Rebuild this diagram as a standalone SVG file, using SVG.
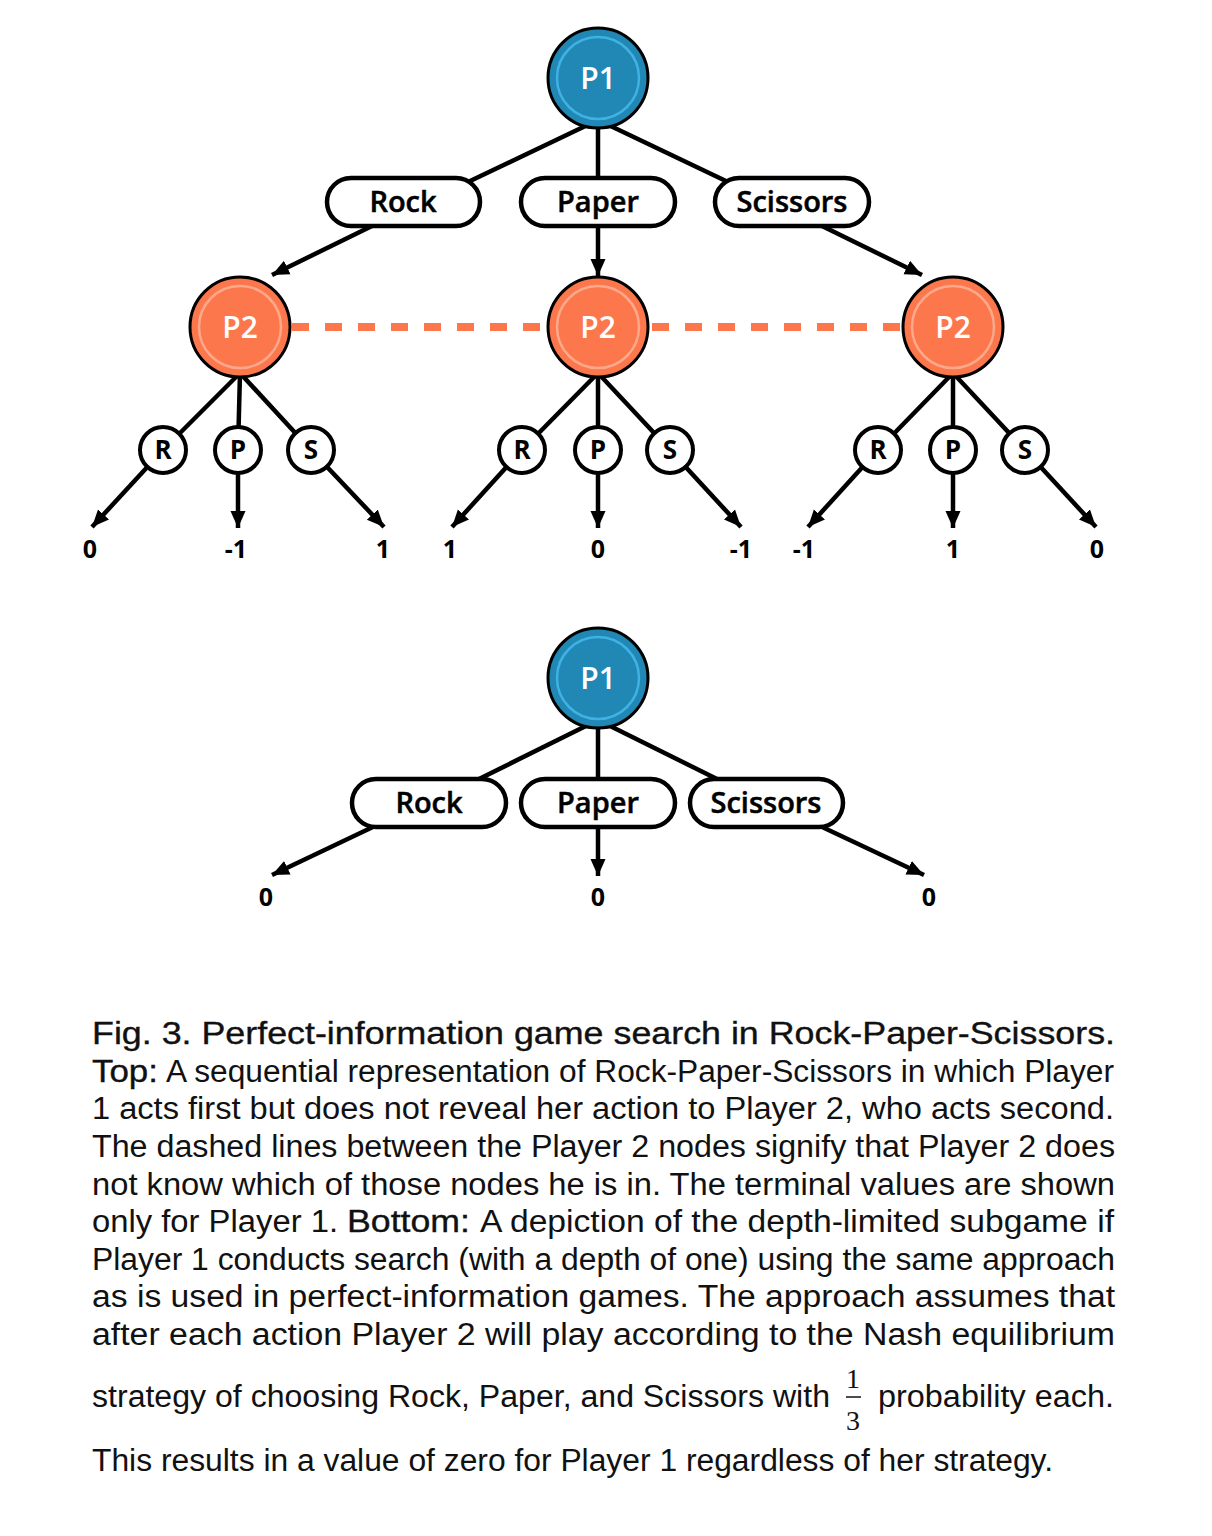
<svg xmlns="http://www.w3.org/2000/svg" width="1212" height="1536" viewBox="0 0 1212 1536">
<defs>
<marker id="ah" markerUnits="userSpaceOnUse" markerWidth="18" markerHeight="18" viewBox="0 0 18 18" refX="17" refY="9" orient="auto">
<path d="M0,1.5 L17,9 L0,16.5 Z" fill="#000"/>
</marker>
</defs>
<style>
.ln{stroke:#000;stroke-width:4.5;fill:none}
.ar{stroke:#000;stroke-width:4.5;fill:none;marker-end:url(#ah)}
.p1{fill:#2187b4;stroke:#000;stroke-width:3}
.p1r{fill:none;stroke:#3fb2e3;stroke-width:2.5}
.p2{fill:#fd774d;stroke:#000;stroke-width:3}
.p2r{fill:none;stroke:#fca88b;stroke-width:2.5}
.big{font-family:"Open Sans","Noto Sans",sans-serif;font-weight:600;font-size:30px;fill:#fff;text-anchor:middle}
.pill{fill:#fff;stroke:#000;stroke-width:4.5}
.pt{font-family:"Open Sans","Noto Sans",sans-serif;font-weight:600;font-size:29px;fill:#000;text-anchor:middle;stroke:#000;stroke-width:0.5}
.sm{fill:#fff;stroke:#000;stroke-width:4}
.st{font-family:"Open Sans","Noto Sans",sans-serif;font-weight:700;font-size:26px;fill:#000;text-anchor:middle}
.tv{font-family:"Open Sans","Noto Sans",sans-serif;font-weight:700;font-size:25px;fill:#000;text-anchor:middle}
.dash{stroke:#fd774d;stroke-width:8;stroke-dasharray:17 16;fill:none}
.cap{font-family:"Liberation Sans",Arial,sans-serif;font-size:31px;fill:#111}
.cm{font-family:"Liberation Sans",Arial,sans-serif;font-size:31px;fill:#111;stroke:#111;stroke-width:0.35}
.fr{font-family:"Liberation Serif","Times New Roman",serif;font-size:28px;fill:#111;text-anchor:middle}
</style>

<g id="connectors">
<line class="ln" x1="598" y1="120" x2="468" y2="182"/>
<line class="ln" x1="598" y1="120" x2="598" y2="180"/>
<line class="ln" x1="598" y1="120" x2="728" y2="182"/>
<line class="ar" x1="372" y1="226" x2="272" y2="275"/>
<line class="ar" x1="598" y1="226" x2="598" y2="276"/>
<line class="ar" x1="822" y1="226" x2="922" y2="275"/>
<line class="dash" x1="292" y1="327" x2="548" y2="327"/>
<line class="dash" x1="652" y1="327" x2="903" y2="327"/>
<line class="ln" x1="240" y1="373" x2="163" y2="450"/>
<line class="ln" x1="240" y1="373" x2="238" y2="450"/>
<line class="ln" x1="240" y1="373" x2="311" y2="450"/>
<line class="ar" x1="163" y1="450" x2="92" y2="527"/>
<line class="ar" x1="238" y1="470" x2="238" y2="528"/>
<line class="ar" x1="311" y1="450" x2="384" y2="527"/>
<line class="ln" x1="598" y1="373" x2="522" y2="450"/>
<line class="ln" x1="598" y1="373" x2="598" y2="450"/>
<line class="ln" x1="598" y1="373" x2="670" y2="450"/>
<line class="ar" x1="522" y1="450" x2="452" y2="527"/>
<line class="ar" x1="598" y1="470" x2="598" y2="528"/>
<line class="ar" x1="670" y1="450" x2="741" y2="527"/>
<line class="ln" x1="953" y1="373" x2="878" y2="450"/>
<line class="ln" x1="953" y1="373" x2="953" y2="450"/>
<line class="ln" x1="953" y1="373" x2="1025" y2="450"/>
<line class="ar" x1="878" y1="450" x2="808" y2="527"/>
<line class="ar" x1="953" y1="470" x2="953" y2="528"/>
<line class="ar" x1="1025" y1="450" x2="1096" y2="527"/>
<line class="ln" x1="598" y1="720" x2="475" y2="781"/>
<line class="ln" x1="598" y1="720" x2="598" y2="781"/>
<line class="ln" x1="598" y1="720" x2="721" y2="781"/>
<line class="ar" x1="375" y1="826" x2="272" y2="875"/>
<line class="ar" x1="598" y1="826" x2="598" y2="876"/>
<line class="ar" x1="820" y1="826" x2="924" y2="875"/>
</g>

<g id="top-p1"><circle class="p1" cx="598" cy="78" r="50"/><circle class="p1r" cx="598" cy="78" r="41"/><text class="big" x="598" y="89">P1</text></g>
<g id="top-rock"><rect class="pill" x="327" y="178" width="153" height="48" rx="24"/><text class="pt" x="403" y="212">Rock</text></g>
<g id="top-paper"><rect class="pill" x="521" y="178" width="154" height="48" rx="24"/><text class="pt" x="598" y="212">Paper</text></g>
<g id="top-scissors"><rect class="pill" x="715" y="178" width="154" height="48" rx="24"/><text class="pt" x="792" y="212">Scissors</text></g>

<g id="p2-a"><circle class="p2" cx="240" cy="327" r="50"/><circle class="p2r" cx="240" cy="327" r="41"/><text class="big" x="240" y="338">P2</text></g>
<g id="p2-b"><circle class="p2" cx="598" cy="327" r="50"/><circle class="p2r" cx="598" cy="327" r="41"/><text class="big" x="598" y="338">P2</text></g>
<g id="p2-c"><circle class="p2" cx="953" cy="327" r="50"/><circle class="p2r" cx="953" cy="327" r="41"/><text class="big" x="953" y="338">P2</text></g>

<g id="a-r"><circle class="sm" cx="163" cy="450" r="23"/><text class="st" x="163" y="459">R</text></g>
<g id="a-p"><circle class="sm" cx="238" cy="450" r="23"/><text class="st" x="238" y="459">P</text></g>
<g id="a-s"><circle class="sm" cx="311" cy="450" r="23"/><text class="st" x="311" y="459">S</text></g>
<g id="b-r"><circle class="sm" cx="522" cy="450" r="23"/><text class="st" x="522" y="459">R</text></g>
<g id="b-p"><circle class="sm" cx="598" cy="450" r="23"/><text class="st" x="598" y="459">P</text></g>
<g id="b-s"><circle class="sm" cx="670" cy="450" r="23"/><text class="st" x="670" y="459">S</text></g>
<g id="c-r"><circle class="sm" cx="878" cy="450" r="23"/><text class="st" x="878" y="459">R</text></g>
<g id="c-p"><circle class="sm" cx="953" cy="450" r="23"/><text class="st" x="953" y="459">P</text></g>
<g id="c-s"><circle class="sm" cx="1025" cy="450" r="23"/><text class="st" x="1025" y="459">S</text></g>

<g id="terminals-top">
<text class="tv" x="90" y="558">0</text>
<text class="tv" x="236" y="558">-1</text>
<text class="tv" x="383" y="558">1</text>
<text class="tv" x="450" y="558">1</text>
<text class="tv" x="598" y="558">0</text>
<text class="tv" x="741" y="558">-1</text>
<text class="tv" x="804" y="558">-1</text>
<text class="tv" x="953" y="558">1</text>
<text class="tv" x="1097" y="558">0</text>
</g>

<g id="bot-p1"><circle class="p1" cx="598" cy="678" r="50"/><circle class="p1r" cx="598" cy="678" r="41"/><text class="big" x="598" y="689">P1</text></g>
<g id="bot-rock"><rect class="pill" x="352" y="779" width="154" height="48" rx="24"/><text class="pt" x="429" y="813">Rock</text></g>
<g id="bot-paper"><rect class="pill" x="521" y="779" width="154" height="48" rx="24"/><text class="pt" x="598" y="813">Paper</text></g>
<g id="bot-scissors"><rect class="pill" x="690" y="779" width="153" height="48" rx="24"/><text class="pt" x="766" y="813">Scissors</text></g>
<g id="terminals-bottom">
<text class="tv" x="266" y="906">0</text>
<text class="tv" x="598" y="906">0</text>
<text class="tv" x="929" y="906">0</text>
</g>

<g id="caption">
<text class="cm" x="92" y="1044" textLength="1023" lengthAdjust="spacingAndGlyphs">Fig. 3. Perfect-information game search in Rock-Paper-Scissors.</text>
<text class="cm" x="92" y="1082" textLength="66" lengthAdjust="spacingAndGlyphs">Top:</text>
<text class="cap" x="166" y="1082" textLength="948" lengthAdjust="spacingAndGlyphs">A sequential representation of Rock-Paper-Scissors in which Player</text>
<text class="cap" x="92" y="1119" textLength="1022" lengthAdjust="spacingAndGlyphs">1 acts first but does not reveal her action to Player 2, who acts second.</text>
<text class="cap" x="92" y="1157" textLength="1023" lengthAdjust="spacingAndGlyphs">The dashed lines between the Player 2 nodes signify that Player 2 does</text>
<text class="cap" x="92" y="1195" textLength="1023" lengthAdjust="spacingAndGlyphs">not know which of those nodes he is in. The terminal values are shown</text>
<text class="cap" x="92" y="1232" textLength="246" lengthAdjust="spacingAndGlyphs">only for Player 1.</text>
<text class="cm" x="347" y="1232" textLength="123" lengthAdjust="spacingAndGlyphs">Bottom:</text>
<text class="cap" x="480" y="1232" textLength="634" lengthAdjust="spacingAndGlyphs">A depiction of the depth-limited subgame if</text>
<text class="cap" x="92" y="1270" textLength="1023" lengthAdjust="spacingAndGlyphs">Player 1 conducts search (with a depth of one) using the same approach</text>
<text class="cap" x="92" y="1307" textLength="1023" lengthAdjust="spacingAndGlyphs">as is used in perfect-information games. The approach assumes that</text>
<text class="cap" x="92" y="1345" textLength="1023" lengthAdjust="spacingAndGlyphs">after each action Player 2 will play according to the Nash equilibrium</text>
<text class="cap" x="92" y="1407" textLength="738" lengthAdjust="spacingAndGlyphs">strategy of choosing Rock, Paper, and Scissors with</text>
<text class="fr" x="853" y="1388">1</text>
<line x1="846" y1="1397" x2="861" y2="1397" stroke="#111" stroke-width="1.5"/>
<text class="fr" x="853" y="1430">3</text>
<text class="cap" x="878" y="1407" textLength="236" lengthAdjust="spacingAndGlyphs">probability each.</text>
<text class="cap" x="92" y="1471" textLength="961" lengthAdjust="spacingAndGlyphs">This results in a value of zero for Player 1 regardless of her strategy.</text>
</g>
</svg>
